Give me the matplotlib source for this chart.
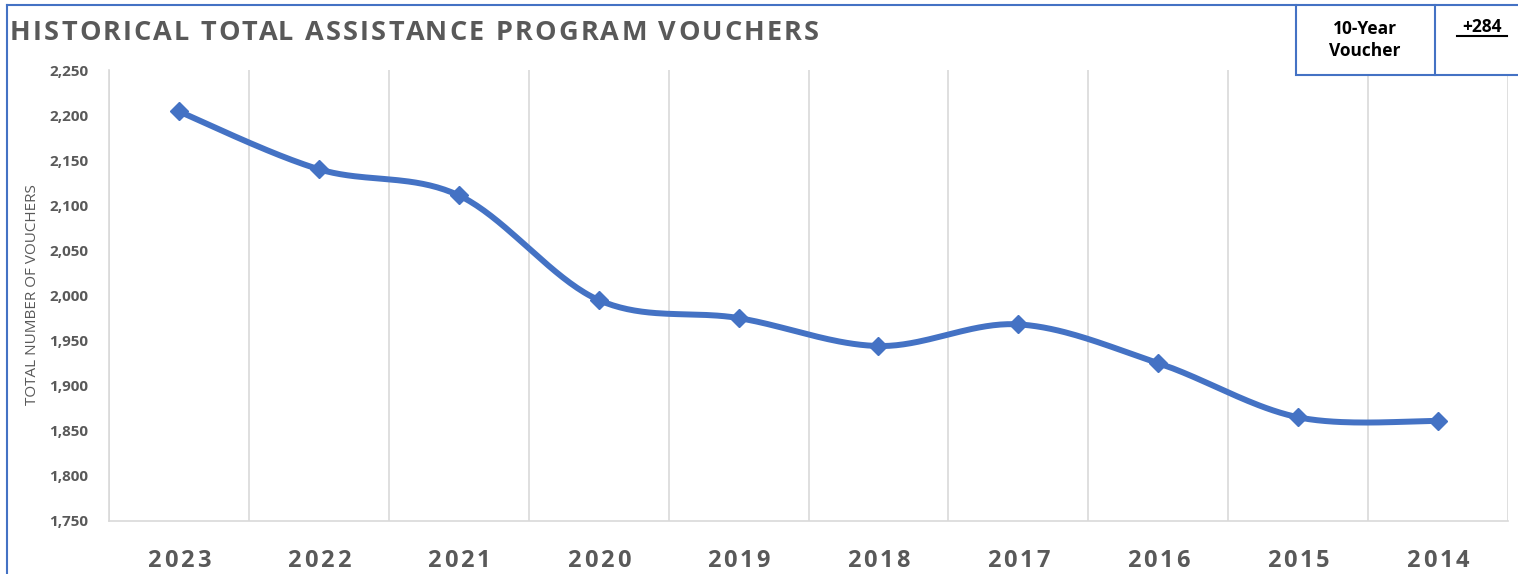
import numpy as np
import matplotlib
matplotlib.use("Agg")
import matplotlib.pyplot as plt
from matplotlib.patches import Rectangle
from matplotlib.lines import Line2D
from matplotlib.font_manager import FontProperties

# data
years = ["2023", "2022", "2021", "2020", "2019", "2018", "2017", "2016", "2015", "2014"]
vouchers = [2204, 2140, 2111, 1995, 1975, 1944, 1968, 1925, 1865, 1861]
y_ticks = [1750, 1800, 1850, 1900, 1950, 2000, 2050, 2100, 2150, 2200, 2250]
title = "HISTORICAL TOTAL ASSISTANCE PROGRAM VOUCHERS"
change_label = "+284"

blue = "#4472C4"
gray_txt = "#595959"
grid_c = "#D9D9D9"
W, H = 1518, 574


def smooth_curve(xs, ys, n=40):
    # excel style smoothed line (bezier through points)
    pts = np.column_stack([xs, ys]).astype(float)
    out = []
    for i in range(len(pts) - 1):
        p0 = pts[i - 1] if i > 0 else pts[i]
        p1 = pts[i]
        p2 = pts[i + 1]
        p3 = pts[i + 2] if i + 2 < len(pts) else pts[i + 1]
        c1 = p1 + (p2 - p0) / 6.0
        c2 = p2 - (p3 - p1) / 6.0
        t = np.linspace(0, 1, n)[:, None]
        seg = ((1 - t) ** 3) * p1 + 3 * ((1 - t) ** 2) * t * c1 + 3 * (1 - t) * t ** 2 * c2 + t ** 3 * p2
        out.append(seg if i == 0 else seg[1:])
    out = np.vstack(out)
    return out[:, 0], out[:, 1]


def spaced_text(fig, x_px, y_px, s, spacing, prop, ha="left", **kw):
    # draw text with extra letter spacing (pixels), y_px = baseline from top
    r = fig.canvas.get_renderer()
    bar_w = r.get_text_width_height_descent("|", prop, ismath=False)[0]

    def width(t):
        return r.get_text_width_height_descent(t + "|", prop, ismath=False)[0] - bar_w

    total = width(s) + spacing * (len(s) - 1)
    x0 = x_px - total / 2 if ha == "center" else x_px
    for i, ch in enumerate(s):
        if ch == " ":
            continue
        xp = x0 + width(s[:i]) + spacing * i
        fig.text(xp / W, 1 - y_px / H, ch, fontproperties=prop, ha="left", va="baseline", **kw)


fig = plt.figure(figsize=[W / 100, H / 100], dpi=100)
ax = fig.add_axes([109 / W, 1 - 521 / H, (1508 - 109) / W, (521 - 70) / H])

x = np.arange(len(years))
sx, sy = smooth_curve(x, vouchers)
ax.plot(sx, sy, color=blue, linewidth=4.3, solid_capstyle="round", zorder=3)
ax.plot(x, vouchers, linestyle="none", marker="D", markersize=9, color=blue, zorder=4)

ax.set_xlim(-0.5, len(years) - 0.5)
ax.set_ylim(1750, 2250)
ax.set_yticks(y_ticks)
ax.set_yticklabels([f"{v:,}" for v in y_ticks], fontsize=11, fontweight="bold",
                   color=gray_txt, family="Open Sans")
ax.set_xticks(x)
ax.set_xticklabels([])
ax.set_xticks(np.arange(-0.5, len(years)), minor=True)
ax.grid(which="minor", axis="x", color=grid_c, linewidth=1.2)
ax.tick_params(which="both", length=0)
ax.tick_params(axis="y", pad=15)

for s in ["top", "right"]:
    ax.spines[s].set_visible(False)
for s in ["left", "bottom"]:
    ax.spines[s].set_color(grid_c)
    ax.spines[s].set_linewidth(1.2)

fig.text(33 / W, 1 - 295 / H, "TOTAL NUMBER OF VOUCHERS", fontsize=11, color=gray_txt,
         family="Open Sans", rotation=90, ha="center", va="center")

# title + category labels with letter spacing
title_prop = FontProperties(family="Open Sans", weight="bold", size=19.5)
spaced_text(fig, 10, 40, title, 2.2, title_prop, color=gray_txt)

fig.canvas.draw()
tick_prop = FontProperties(family="Open Sans", weight="bold", size=17)
for i, lab in enumerate(years):
    xp = ax.transData.transform((i, 1750))[0]
    spaced_text(fig, xp, 567, lab, 3.0, tick_prop, ha="center", color=gray_txt)

# outer frame lines
fig.add_artist(Line2D([7 / W, 7 / W], [0, 1 - 5 / H], color=blue, linewidth=1.5))
fig.add_artist(Line2D([7 / W, 1296 / W], [1 - 5 / H, 1 - 5 / H], color=blue, linewidth=1.5))

# summary box
fig.add_artist(Rectangle((1296 / W, 1 - 75 / H), (1520 - 1296) / W, 70 / H,
                         fill=True, facecolor="white", edgecolor=blue, linewidth=1.5))
fig.add_artist(Line2D([1435 / W, 1435 / W], [1 - 75 / H, 1 - 5 / H], color=blue, linewidth=1.5))
fig.text(1365 / W, 1 - 40 / H, "10-Year\nVoucher", fontsize=12.5, fontweight="bold",
         color="black", family="Open Sans", ha="center", va="center", linespacing=1.25)
fig.text(1482 / W, 1 - 32 / H, change_label, fontsize=12.5, fontweight="bold",
         color="black", family="Open Sans", ha="center", va="baseline")
fig.add_artist(Line2D([1457 / W, 1507 / W], [1 - 36 / H, 1 - 36 / H], color="black", linewidth=1.5))

fig.savefig("out.png", dpi=100)
